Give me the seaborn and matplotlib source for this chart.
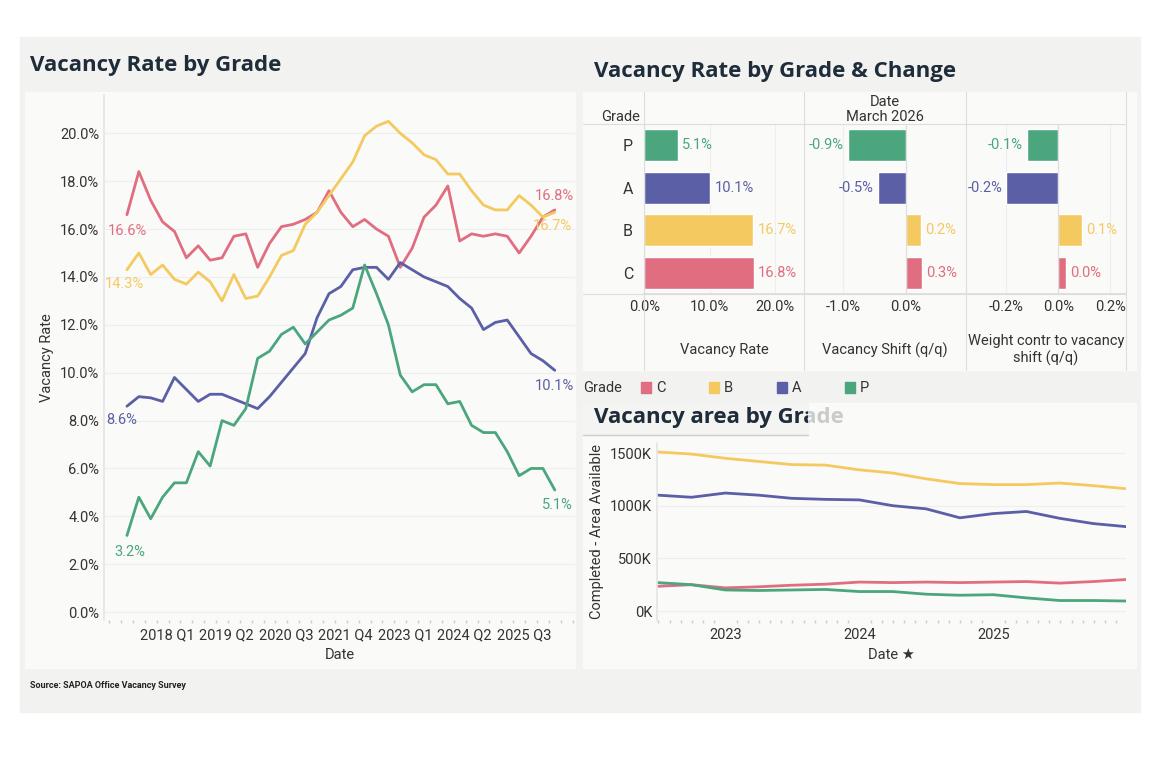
import numpy as np
import pandas as pd
import matplotlib
matplotlib.use("Agg")
import matplotlib.pyplot as plt
import seaborn as sns
from matplotlib.ticker import FuncFormatter, FixedLocator
from matplotlib.transforms import Bbox

sns.set_theme(style="white")
plt.rcParams['font.family'] = ['Roboto', 'DejaVu Sans']

# ---------------- data ----------------
grades = ["C", "B", "A", "P"]
colors = {"C": "#e06d80", "B": "#f4ca60", "A": "#5a5fa6", "P": "#4ba67e"}

quarters = pd.period_range("2017Q1", "2026Q1", freq="Q").astype(str).tolist()
rate_C = [16.6, 18.4, 17.2, 16.3, 15.9, 14.8, 15.3, 14.7, 14.8, 15.7, 15.8, 14.4, 15.4,
          16.1, 16.2, 16.4, 16.7, 17.6, 16.7, 16.1, 16.4, 16.0, 15.7, 14.4, 15.2, 16.5,
          17.0, 17.8, 15.5, 15.8, 15.7, 15.8, 15.7, 15.0, 15.7, 16.5, 16.8]
rate_B = [14.3, 15.0, 14.1, 14.5, 13.9, 13.7, 14.2, 13.8, 13.0, 14.1, 13.1, 13.2, 14.0,
          14.9, 15.1, 16.2, 16.7, 17.4, 18.1, 18.8, 19.9, 20.3, 20.5, 20.0, 19.6, 19.1,
          18.9, 18.3, 18.3, 17.6, 17.0, 16.8, 16.8, 17.4, 17.0, 16.5, 16.7]
rate_A = [8.6, 9.0, 8.95, 8.8, 9.8, 9.3, 8.8, 9.1, 9.1, 8.9, 8.7, 8.5, 9.0, 9.6, 10.2,
          10.8, 12.3, 13.3, 13.6, 14.3, 14.4, 14.4, 13.9, 14.6, 14.3, 14.0, 13.8, 13.6,
          13.1, 12.7, 11.8, 12.1, 12.2, 11.5, 10.8, 10.5, 10.1]
rate_P = [3.2, 4.8, 3.9, 4.8, 5.4, 5.4, 6.7, 6.1, 8.0, 7.8, 8.5, 10.6, 10.9, 11.6, 11.9,
          11.2, 11.7, 12.2, 12.4, 12.7, 14.5, 13.3, 12.0, 9.9, 9.2, 9.5, 9.5, 8.7, 8.8,
          7.8, 7.5, 7.5, 6.7, 5.7, 6.0, 6.0, 5.1]
xtick_labels = ["2018 Q1", "2019 Q2", "2020 Q3", "2021 Q4", "2023 Q1", "2024 Q2", "2025 Q3"]
yticks_rate = [0, 2, 4, 6, 8, 10, 12, 14, 16, 18, 20]

bar_grades = ["P", "A", "B", "C"]
bar_rate = [5.1, 10.1, 16.7, 16.8]
bar_shift = [-0.92, -0.45, 0.25, 0.26]
bar_weight = [-0.12, -0.20, 0.09, 0.03]
shift_labels = [-0.9, -0.5, 0.2, 0.3]
weight_labels = [-0.1, -0.2, 0.1, 0.0]

area_dates = ["2022-07-01", "2022-10-01", "2023-01-01", "2023-04-01", "2023-07-01",
              "2023-10-01", "2024-01-01", "2024-04-01", "2024-07-01", "2024-10-01",
              "2025-01-01", "2025-04-01", "2025-07-01", "2025-10-01", "2026-01-01"]
area_B = [1510, 1490, 1450, 1420, 1390, 1385, 1340, 1310, 1255, 1210, 1200, 1200, 1215, 1190, 1160]
area_A = [1100, 1080, 1120, 1100, 1070, 1060, 1055, 1000, 970, 885, 925, 945, 880, 830, 800]
area_C = [235, 250, 220, 230, 245, 255, 275, 270, 275, 270, 275, 280, 265, 280, 300]
area_P = [270, 250, 200, 195, 200, 205, 185, 185, 160, 150, 155, 125, 100, 100, 95]

# ---------------- figure ----------------
W, H = 1160, 780
fig = plt.figure(figsize=(W / 100, H / 100), dpi=100)
fig.patch.set_facecolor("white")

def rect(x0, y0, x1, y1):
    return [x0 / W, 1 - y1 / H, (x1 - x0) / W, (y1 - y0) / H]

bgax = fig.add_axes([0, 0, 1, 1], zorder=-10)
bgax.set_xlim(0, W); bgax.set_ylim(H, 0); bgax.axis("off")
bgax.add_patch(plt.Rectangle((20, 37), 1120, 675, color="#f2f2f1"))
bgax.add_patch(plt.Rectangle((25, 92), 550, 576, color="#fafaf8"))
bgax.add_patch(plt.Rectangle((583, 92), 553, 278, color="#fafaf8"))
bgax.add_patch(plt.Rectangle((583, 403), 553, 265, color="#fafaf8"))
bgax.add_patch(plt.Rectangle((583, 403), 225, 32, color="#f4f4f3"))
bgax.plot([583, 808], [435, 435], color="#cfcfcf", lw=1)

TXT = "#333333"
TITLE = "#1f2d3a"
tkw = dict(family=["Open Sans", "DejaVu Sans"], fontweight="bold", fontsize=16, va="center")
fig.text(30 / W, 1 - 66 / H, "Vacancy Rate by Grade", color=TITLE, **tkw)
fig.text(594 / W, 1 - 71 / H, "Vacancy Rate by Grade & Change", color=TITLE, **tkw)
fig.text(594 / W, 1 - 418 / H, "Vacancy area by Grade", color="#c9cbcd", **tkw)
tdark = fig.text(594 / W, 1 - 418 / H, "Vacancy area by Grade", color=TITLE, **tkw)
tdark.set_clip_box(Bbox.from_extents(0, 0, 808, H))
tdark.set_clip_on(True)
fig.text(30 / W, 1 - 685 / H, "Source: SAPOA Office Vacancy Survey", fontsize=6.5,
         fontweight="bold", color="#222222", va="center")

# ---------------- left line chart ----------------
series = {"C": rate_C, "B": rate_B, "A": rate_A, "P": rate_P}
df = pd.DataFrame([{"idx": i, "Quarter": q, "Grade": g, "Rate": series[g][i]}
                   for g in grades for i, q in enumerate(quarters)])
ax = fig.add_axes(rect(104, 95, 575, 620))
ax.set_facecolor("none")
sns.lineplot(data=df, x="idx", y="Rate", hue="Grade", palette=colors, hue_order=grades,
             linewidth=2, ax=ax, legend=False)
ax.set_xlim(-1.93, 37.7)
ax.set_ylim(-0.33, 21.6)
ax.set_yticks(yticks_rate)
ax.yaxis.set_major_formatter(FuncFormatter(lambda v, p: f"{v:.1f}%"))
tick_pos = [quarters.index(l.replace(" ", "")) - 0.6 for l in xtick_labels]
ax.set_xticks(tick_pos)
ax.set_xticklabels(xtick_labels)
ax.xaxis.set_minor_locator(FixedLocator(np.arange(-1.5, 37.7, 1)))
ax.tick_params(axis="x", which="minor", length=2, color="#cccccc", bottom=True)
ax.tick_params(axis="x", which="major", length=0, labelsize=10.5, colors=TXT, pad=6)
ax.tick_params(axis="y", length=0, labelsize=10.5, colors=TXT)
ax.grid(axis="y", color="#eeeeee", linewidth=0.8)
for s in ax.spines.values():
    s.set_visible(False)
ax.spines["left"].set_visible(True); ax.spines["left"].set_color("#e6e6e6")
ax.set_xlabel("Date", fontsize=10.5, color=TXT)
ax.set_ylabel("Vacancy Rate", fontsize=10.5, color=TXT)
start_off = {"C": (0, -12), "B": (-2, -10), "A": (-4, -10), "P": (2, -12)}
end_off = {"C": (0, 10), "B": (-2, -10), "A": (0, -11), "P": (2, -11)}
for g in grades:
    v = series[g]
    ax.annotate(f"{v[0]:.1f}%", (0, v[0]), xytext=start_off[g], textcoords="offset points",
                ha="center", va="center", color=colors[g], fontsize=10.5)
    ax.annotate(f"{v[-1]:.1f}%", (len(v) - 1, v[-1]), xytext=end_off[g],
                textcoords="offset points", ha="center", va="center", color=colors[g], fontsize=10.5)

# ---------------- bar panels ----------------
bdf = pd.DataFrame({"Grade": bar_grades, "rate": bar_rate, "shift": bar_shift,
                    "weight": bar_weight})
panels = [
    ("rate", (644, 804), (-0.05, 24.45), [0, 10, 20], "Vacancy Rate", bar_rate),
    ("shift", (804, 966), (-1.63, 0.97), [-1, 0], "Vacancy Shift (q/q)", shift_labels),
    ("weight", (966, 1126), (-0.355, 0.26), [-0.2, 0, 0.2], "Weight contr to vacancy\nshift (q/q)", weight_labels),
]
for k, (col, (x0, x1), xl, ticks, title, labs) in enumerate(panels):
    bax = fig.add_axes(rect(x0, 124, x1, 294))
    bax.set_facecolor("none")
    sns.barplot(data=bdf, y="Grade", x=col, hue="Grade", palette=colors, order=bar_grades,
                width=0.75, ax=bax, legend=False, saturation=1)
    bax.set_xlim(*xl)
    bax.set_ylim(3.5, -0.5)
    bax.set_xticks(ticks)
    bax.set_xticklabels([f"{t:.1f}%" for t in ticks])
    bax.tick_params(axis="x", length=0, labelsize=10.5, colors=TXT, pad=4)
    bax.grid(axis="x", color="#eeeeee", linewidth=0.8)
    bax.axvline(0, color="#dddddd", linewidth=0.8)
    for s in bax.spines.values():
        s.set_visible(False)
    bax.spines["bottom"].set_visible(True); bax.spines["bottom"].set_color("#dddddd")
    bax.set_ylabel(""); bax.set_xlabel("")
    if k == 0:
        bax.tick_params(axis="y", length=0, labelsize=11.5, colors=TXT, pad=8)
    else:
        bax.set_yticks([])
    for i, g in enumerate(bar_grades):
        v = bdf[col][i]
        ha = "left" if v >= 0 else "right"
        bax.annotate(f"{labs[i]:.1f}%", (v, i), xytext=(3 if v >= 0 else -3, 0),
                     textcoords="offset points", ha=ha, va="center", color=colors[g], fontsize=10.5)
    fig.text((x0 + x1) / 2 / W, 1 - 350 / H, title, ha="center", va="center",
             fontsize=10.5, color=TXT, linespacing=1.3)
for xv in [644, 804, 966, 1126]:
    fig.add_artist(plt.Line2D([xv / W, xv / W], [1 - 92 / H, 1 - 370 / H], color="#dddddd", lw=0.8))
fig.add_artist(plt.Line2D([583 / W, 1126 / W], [1 - 124 / H, 1 - 124 / H], color="#dddddd", lw=0.8))
fig.add_artist(plt.Line2D([583 / W, 1126 / W], [1 - 294 / H, 1 - 294 / H], color="#dddddd", lw=0.8))
fig.text(621 / W, 1 - 117 / H, "Grade", ha="center", va="center", fontsize=10.5, color=TXT)
fig.text(885 / W, 1 - 102 / H, "Date", ha="center", va="center", fontsize=10.5, color=TXT)
fig.text(885 / W, 1 - 117 / H, "March 2026", ha="center", va="center", fontsize=10.5, color=TXT)

# legend
fig.text(583 / W, 1 - 388 / H, "Grade", ha="left", va="center", fontsize=10.5, color=TXT)
for j, g in enumerate(grades):
    lx = 641 + j * 68
    bgax.add_patch(plt.Rectangle((lx, 382), 10, 11, color=colors[g]))
    fig.text((lx + 15) / W, 1 - 388 / H, g, ha="left", va="center", fontsize=10.5, color=TXT)

# ---------------- area line chart ----------------
dt = pd.to_datetime(area_dates)
yr = dt.year + (dt.dayofyear - 1) / 365.25
adata = {"C": area_C, "B": area_B, "A": area_A, "P": area_P}
adf = pd.DataFrame([{"t": yr[i], "Grade": g, "Area": adata[g][i]}
                    for g in grades for i in range(len(area_dates))])
aax = fig.add_axes(rect(657, 443, 1126, 620))
aax.set_facecolor("none")
sns.lineplot(data=adf, x="t", y="Area", hue="Grade", palette=colors, hue_order=grades,
             linewidth=2, ax=aax, legend=False)
aax.set_xlim(2022.49, 2025.99)
aax.set_ylim(-85, 1595)
aax.set_yticks([0, 500, 1000, 1500])
aax.set_yticklabels(["0K", "500K", "1000K", "1500K"])
aax.set_xticks([2023, 2024, 2025])
aax.set_xticklabels(["2023", "2024", "2025"])
aax.xaxis.set_minor_locator(FixedLocator(np.arange(2022.5, 2026.0, 1 / 12)))
aax.tick_params(axis="x", which="minor", length=2, color="#cccccc", bottom=True)
aax.tick_params(axis="x", which="major", length=0, labelsize=10.5, colors=TXT, pad=6)
aax.tick_params(axis="y", length=0, labelsize=10.5, colors=TXT)
aax.grid(axis="y", color="#eeeeee", linewidth=0.8)
for s in aax.spines.values():
    s.set_visible(False)
aax.spines["left"].set_visible(True); aax.spines["left"].set_color("#e6e6e6")
aax.set_xlabel("Date \u2605", fontsize=10.5, color=TXT)
aax.set_ylabel("Completed - Area Available", fontsize=10.5, color=TXT)

fig.savefig("out.png", dpi=100, facecolor="white")
